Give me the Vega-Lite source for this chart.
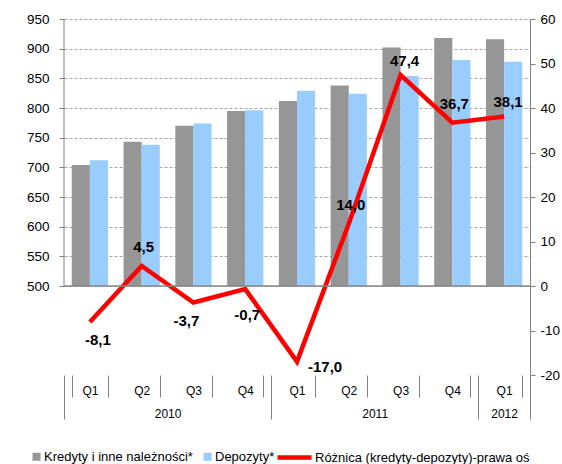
{
  "$schema": "https://vega.github.io/schema/vega-lite/v6.json",
  "autosize": "none",
  "width": 466,
  "height": 356,
  "padding": {"left": 64, "top": 19, "right": 32, "bottom": 89},
  "config": {
    "view": {"stroke": null},
    "font": "Liberation Sans",
    "axis": {"labelOverlap": false},
    "locale": {"number": {"decimal": ",", "thousands": " ", "grouping": [3], "currency": ["", " zł"], "minus": "-"}}
  },
  "datasets": {
    "slupki": [
      {"q": "2010 Q1", "seria": "Kredyty i inne należności*", "wartosc": 704},
      {"q": "2010 Q1", "seria": "Depozyty*", "wartosc": 712},
      {"q": "2010 Q2", "seria": "Kredyty i inne należności*", "wartosc": 743},
      {"q": "2010 Q2", "seria": "Depozyty*", "wartosc": 738},
      {"q": "2010 Q3", "seria": "Kredyty i inne należności*", "wartosc": 770},
      {"q": "2010 Q3", "seria": "Depozyty*", "wartosc": 774},
      {"q": "2010 Q4", "seria": "Kredyty i inne należności*", "wartosc": 795},
      {"q": "2010 Q4", "seria": "Depozyty*", "wartosc": 796},
      {"q": "2011 Q1", "seria": "Kredyty i inne należności*", "wartosc": 812},
      {"q": "2011 Q1", "seria": "Depozyty*", "wartosc": 829},
      {"q": "2011 Q2", "seria": "Kredyty i inne należności*", "wartosc": 838},
      {"q": "2011 Q2", "seria": "Depozyty*", "wartosc": 824},
      {"q": "2011 Q3", "seria": "Kredyty i inne należności*", "wartosc": 902},
      {"q": "2011 Q3", "seria": "Depozyty*", "wartosc": 854},
      {"q": "2011 Q4", "seria": "Kredyty i inne należności*", "wartosc": 918},
      {"q": "2011 Q4", "seria": "Depozyty*", "wartosc": 881},
      {"q": "2012 Q1", "seria": "Kredyty i inne należności*", "wartosc": 916},
      {"q": "2012 Q1", "seria": "Depozyty*", "wartosc": 878}
    ],
    "roznica": [
      {"q": "2010 Q1", "seria": "Różnica (kredyty-depozyty)-prawa oś", "roznica": -8.1},
      {"q": "2010 Q2", "seria": "Różnica (kredyty-depozyty)-prawa oś", "roznica": 4.5},
      {"q": "2010 Q3", "seria": "Różnica (kredyty-depozyty)-prawa oś", "roznica": -3.7},
      {"q": "2010 Q4", "seria": "Różnica (kredyty-depozyty)-prawa oś", "roznica": -0.7},
      {"q": "2011 Q1", "seria": "Różnica (kredyty-depozyty)-prawa oś", "roznica": -17.0},
      {"q": "2011 Q2", "seria": "Różnica (kredyty-depozyty)-prawa oś", "roznica": 14.0},
      {"q": "2011 Q3", "seria": "Różnica (kredyty-depozyty)-prawa oś", "roznica": 47.4},
      {"q": "2011 Q4", "seria": "Różnica (kredyty-depozyty)-prawa oś", "roznica": 36.7},
      {"q": "2012 Q1", "seria": "Różnica (kredyty-depozyty)-prawa oś", "roznica": 38.1}
    ]
  },
  "layer": [
    {
      "data": {"name": "slupki"},
      "mark": {"type": "bar"},
      "encoding": {
        "x": {
          "field": "q", "type": "nominal",
          "scale": {"paddingInner": 0.3, "paddingOuter": 0.15},
          "axis": {
            "title": null, "domain": false, "grid": false,
            "tickBand": "extent", "tickSize": 22, "tickColor": "#808080",
            "labelExpr": "datum.value ? substring(datum.value, 5) : ''", "labelAngle": 0,
            "labelFontSize": 12, "labelColor": "#000000", "labelPadding": -12
          }
        },
        "xOffset": {
          "field": "seria", "type": "nominal",
          "sort": ["Kredyty i inne należności*", "Depozyty*"],
          "scale": {"paddingInner": 0, "paddingOuter": 0}
        },
        "y": {
          "field": "wartosc", "type": "quantitative",
          "scale": {"domain": [350, 950], "nice": false, "zero": false},
          "axis": {
            "orient": "left", "title": null, "domain": false,
            "values": [500, 550, 600, 650, 700, 750, 800, 850, 900, 950],
            "labelOverlap": false,
            "grid": true, "gridDash": [3, 2], "gridColor": "#a6a6a6",
            "tickColor": "#808080", "tickSize": 5,
            "labelFontSize": 13.5, "labelColor": "#000000", "labelPadding": 10
          }
        },
        "y2": {"datum": 500},
        "fill": {
          "field": "seria", "type": "nominal",
          "scale": {"domain": ["Kredyty i inne należności*", "Depozyty*"], "range": ["#969696", "#99ccff"]},
          "legend": {
            "orient": "none", "legendX": -34, "legendY": 431,
            "direction": "horizontal", "title": null, "padding": 0,
            "symbolType": "square", "symbolSize": 64, "symbolStrokeWidth": 0,
            "labelFontSize": 13, "labelColor": "#000000", "labelOffset": 1,
            "columnPadding": 8, "labelLimit": 300
          }
        }
      }
    },
    {
      "data": {"name": "roznica"},
      "encoding": {
        "x": {
          "field": "q", "type": "nominal",
          "scale": {"paddingInner": 0.3, "paddingOuter": 0.15},
          "axis": null
        },
        "y": {
          "field": "roznica", "type": "quantitative",
          "scale": {"domain": [-20, 60], "nice": false, "zero": false},
          "axis": {
            "orient": "right", "title": null, "grid": false,
            "values": [-20, -10, 0, 10, 20, 30, 40, 50, 60],
            "format": "d", "labelOverlap": false,
            "domainColor": "#808080", "tickColor": "#808080", "tickSize": 5,
            "labelFontSize": 13.5, "labelColor": "#000000", "labelPadding": 5
          }
        }
      },
      "layer": [
        {
          "mark": {"type": "line", "strokeWidth": 4.5, "strokeJoin": "miter", "strokeCap": "butt"},
          "encoding": {
            "stroke": {
              "field": "seria", "type": "nominal",
              "scale": {"range": ["#ff0000"]},
              "legend": {
                "orient": "none", "legendX": 211, "legendY": 419,
                "direction": "horizontal", "title": null, "padding": 0,
                "symbolType": "stroke", "symbolSize": 1156, "symbolStrokeWidth": 4.5,
                "labelFontSize": 13, "labelColor": "#000000", "labelOffset": 1,
                "labelLimit": 300
              }
            }
          }
        },
        {
          "transform": [{"filter": {"field": "q", "oneOf": ["2010 Q2", "2011 Q2", "2011 Q4"]}}],
          "mark": {"type": "text", "fontWeight": "bold", "fontSize": 15, "color": "#000000", "baseline": "middle", "align": "center", "dx": 2, "dy": -18.5},
          "encoding": {"text": {"field": "roznica", "type": "quantitative", "format": ".1f"}}
        },
        {
          "transform": [{"filter": {"field": "q", "oneOf": ["2011 Q3", "2012 Q1"]}}],
          "mark": {"type": "text", "fontWeight": "bold", "fontSize": 15, "color": "#000000", "baseline": "middle", "align": "center", "dx": 4, "dy": -14},
          "encoding": {"text": {"field": "roznica", "type": "quantitative", "format": ".1f"}}
        },
        {
          "transform": [{"filter": {"field": "q", "oneOf": ["2010 Q1"]}}],
          "mark": {"type": "text", "fontWeight": "bold", "fontSize": 15, "color": "#000000", "baseline": "middle", "align": "center", "dx": 8, "dy": 18},
          "encoding": {"text": {"field": "roznica", "type": "quantitative", "format": ".1f"}}
        },
        {
          "transform": [{"filter": {"field": "q", "oneOf": ["2010 Q3"]}}],
          "mark": {"type": "text", "fontWeight": "bold", "fontSize": 15, "color": "#000000", "baseline": "middle", "align": "center", "dx": -7, "dy": 19},
          "encoding": {"text": {"field": "roznica", "type": "quantitative", "format": ".1f"}}
        },
        {
          "transform": [{"filter": {"field": "q", "oneOf": ["2010 Q4"]}}],
          "mark": {"type": "text", "fontWeight": "bold", "fontSize": 15, "color": "#000000", "baseline": "middle", "align": "center", "dx": 2, "dy": 26},
          "encoding": {"text": {"field": "roznica", "type": "quantitative", "format": ".1f"}}
        },
        {
          "transform": [{"filter": {"field": "q", "oneOf": ["2011 Q1"]}}],
          "mark": {"type": "text", "fontWeight": "bold", "fontSize": 15, "color": "#000000", "baseline": "middle", "align": "left", "dx": 11, "dy": 5},
          "encoding": {"text": {"field": "roznica", "type": "quantitative", "format": ".1f"}}
        }
      ]
    },
    {
      "data": {"values": [{}]},
      "encoding": {
        "x": {
          "datum": 0, "type": "quantitative",
          "scale": {"domain": [0, 9], "nice": false, "zero": false},
          "axis": {
            "orient": "bottom", "title": null, "domain": false, "grid": false,
            "values": [0, 2, 4, 6, 8, 8.5, 9],
            "tickSize": 44, "tickColor": "#808080",
            "tickOpacity": {"condition": {"test": "datum.value == 0 || datum.value == 4 || datum.value == 8 || datum.value == 9", "value": 1}, "value": 0},
            "labelExpr": "datum.value == 2 ? '2010' : datum.value == 6 ? '2011' : datum.value == 8.5 ? '2012' : ''",
            "labelFlush": false, "labelOverlap": false, "labelAngle": 0,
            "labelFontSize": 12, "labelColor": "#000000", "labelPadding": -11
          }
        },
        "y": {
          "datum": 500, "type": "quantitative",
          "scale": {"domain": [350, 950], "nice": false, "zero": false},
          "axis": null
        }
      },
      "layer": [
        {
          "mark": {"type": "rule", "color": "#808080", "strokeWidth": 1},
          "encoding": {"y2": {"datum": 950}}
        },
        {
          "mark": {"type": "rule", "color": "#868686", "strokeWidth": 1.5},
          "encoding": {"x": {"datum": 0, "type": "quantitative"}, "x2": {"datum": 9}}
        }
      ]
    }
  ],
  "resolve": {"scale": {"x": "independent", "y": "independent"}}
}
